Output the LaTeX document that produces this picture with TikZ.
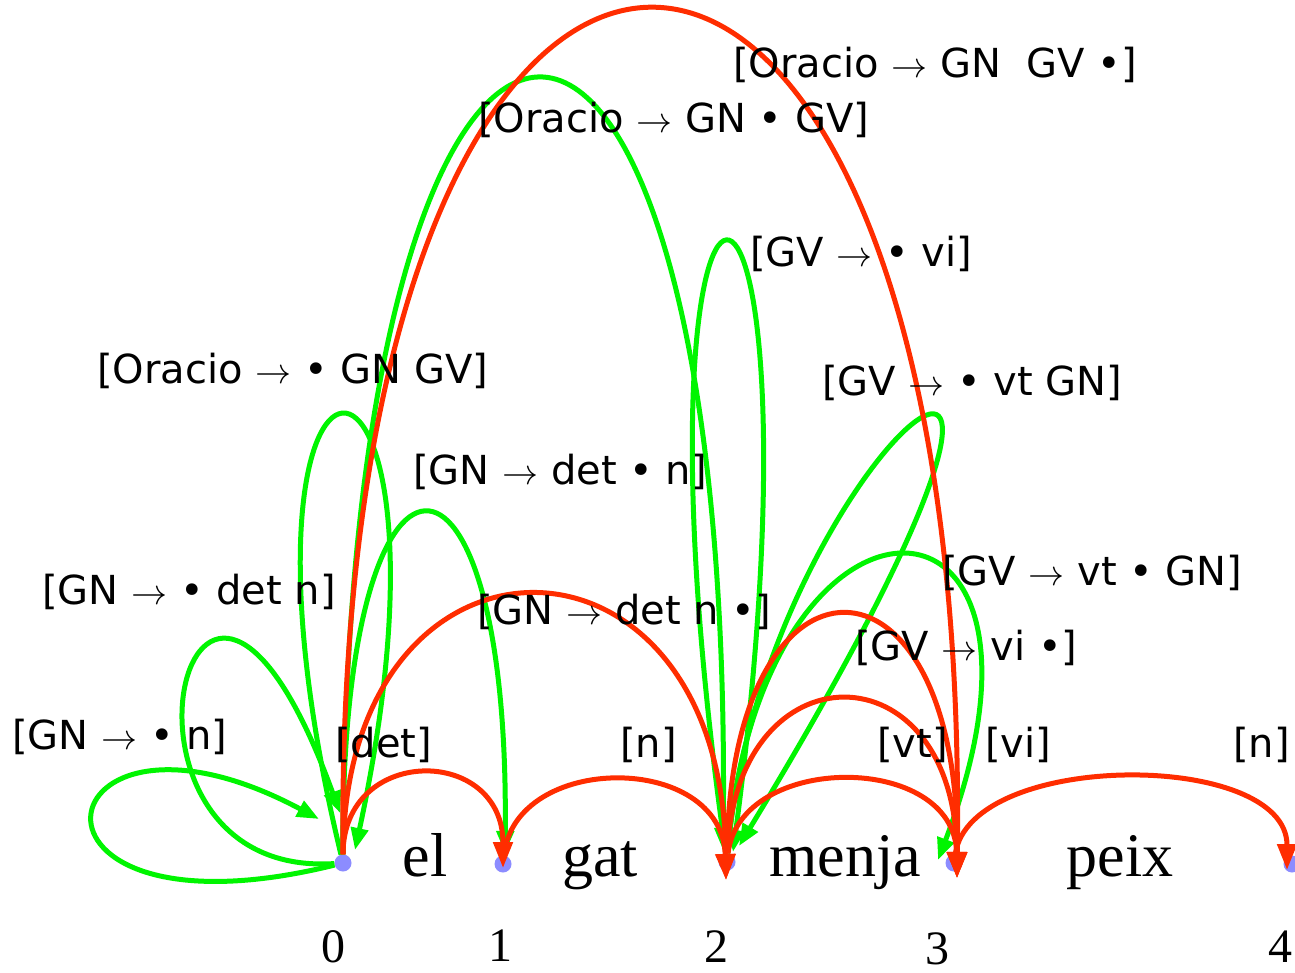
\documentclass[tikz,border=0pt]{standalone}
\usepackage{fontspec}
\setmainfont{Liberation Serif}
\newfontfamily\labfont{DejaVu Sans}
\usetikzlibrary{arrows.meta,calc}
\definecolor{arcred}{RGB}{255,45,0}
\definecolor{arcgreen}{RGB}{0,245,0}
\definecolor{dotblue}{RGB}{140,140,255}
\newcommand{\arr}{\scalebox{3.6}{\fontsize{10}{12}\selectfont$\rightarrow$}}
\tikzset{
  dotnode/.style={circle,fill=dotblue,draw=none,inner sep=0pt,minimum size=17pt},
  redarc/.style={draw=arcred,line width=5pt,-{Triangle[length=26pt,width=19pt]}},
  greenarc/.style={draw=arcgreen,line width=5pt,-{Triangle[length=22pt,width=17pt]}},
  lbl/.style={font=\labfont\fontsize{40}{48}\selectfont,inner sep=0pt,anchor=west},
  wordlbl/.style={font=\fontsize{62}{70}\selectfont,inner sep=0pt,anchor=base},
  numlbl/.style={font=\fontsize{48}{56}\selectfont,inner sep=0pt,anchor=base}
}
\begin{document}
\begin{tikzpicture}[x=1pt,y=-1pt]
\useasboundingbox (0,0) rectangle (1295,973);
% chart positions
\node[dotnode] (n0) at (343,863) {};
\node[dotnode] (n1) at (503,864) {};
\node[dotnode] (n2) at (727,862) {};
\node[dotnode] (n3) at (954,863) {};
\node[dotnode] (n4) at (1292,864) {};
% words
\node[wordlbl] (w0) at (425,876) {el};
\node[wordlbl] (w1) at (600,876) {gat};
\node[wordlbl] (w2) at (845,876) {menja};
\node[wordlbl] (w3) at (1120,876) {peix};
% numbers
\node[numlbl] (d0) at (333,962) {0};
\node[numlbl] (d1) at (500,961) {1};
\node[numlbl] (d2) at (716,962) {2};
\node[numlbl] (d3) at (937,964) {3};
\node[numlbl] (d4) at (1280,962) {4};
% green (active) edges
\draw[greenarc] (n0) .. controls (-10,950) and (40,670) .. ($(n0)+(-24,-44)$);
\draw[greenarc] (n0) .. controls (80,880) and (190,400) .. ($(n0)+(-3,-50)$);
\draw[greenarc] (n0) .. controls (200,270) and (480,270) .. ($(n0)+(12,-13)$);
\draw[greenarc] (n0) .. controls (340,400) and (510,400) .. ($(n1)+(2,-11)$);
\draw[greenarc] (n0) .. controls (345,-178) and (735,-178) .. ($(n2)+(-4,-12)$);
\draw[greenarc] (n2) .. controls (610,39) and (840,39) .. ($(n2)+(6,-10)$);
\draw[greenarc] (n2) .. controls (760,450) and (1180,120) .. ($(n2)+(12,-16)$);
\draw[greenarc] (n2) .. controls (760,450) and (1090,460) .. ($(n3)+(-16,-3)$);
% red (complete) edges
\draw[redarc] (n0) .. controls (343,745) and (503,745) .. ($(n1)+(0,4)$);
\draw[redarc] (n1) .. controls (515,752) and (722,752) .. ($(n2)+(-1,18)$);
\draw[redarc] (n2) .. controls (740,752) and (955,752) .. ($(n3)+(3,15)$);
\draw[redarc] (n2) .. controls (735,645) and (955,645) .. ($(n3)+(3,15)$);
\draw[redarc] (n2) .. controls (730,532) and (960,532) .. ($(n3)+(3,15)$);
\draw[redarc] (n3) .. controls (970,750) and (1287,750) .. ($(n4)+(-5,6)$);
\draw[redarc] (n0) .. controls (345,505) and (722,505) .. ($(n2)+(-1,18)$);
\draw[redarc] (n0) .. controls (333,-275) and (972,-275) .. ($(n3)+(3,15)$);
% labels
\node[lbl] (a1) at (733,65) {[Oracio \arr\ GN\ \ GV •]};
\node[lbl] (a2) at (478,120) {[Oracio \arr\ GN • GV]};
\node[lbl] (a3) at (750,254) {[GV \arr\ • vi]};
\node[lbl] (a4) at (97,371) {[Oracio \arr\ • GN GV]};
\node[lbl] (a5) at (822,383) {[GV \arr\ • vt GN]};
\node[lbl] (a6) at (413,472) {[GN \arr\ det • n]};
\node[lbl] (a7) at (42,592) {[GN \arr\ • det n]};
\node[lbl] (a8) at (942,573) {[GV \arr\ vt • GN]};
\node[lbl] (a9) at (477,612) {[GN \arr\ det n •]};
\node[lbl] (a10) at (855,648) {[GV \arr\ vi •]};
\node[lbl] (a11) at (12,737) {[GN \arr\ • n]};
\node[lbl] (b1) at (335,745) {[det]};
\node[lbl] (b2) at (620,745) {[n]};
\node[lbl] (b3) at (877,745) {[vt]};
\node[lbl] (b4) at (985,745) {[vi]};
\node[lbl] (b5) at (1233,745) {[n]};
\end{tikzpicture}
\end{document}
